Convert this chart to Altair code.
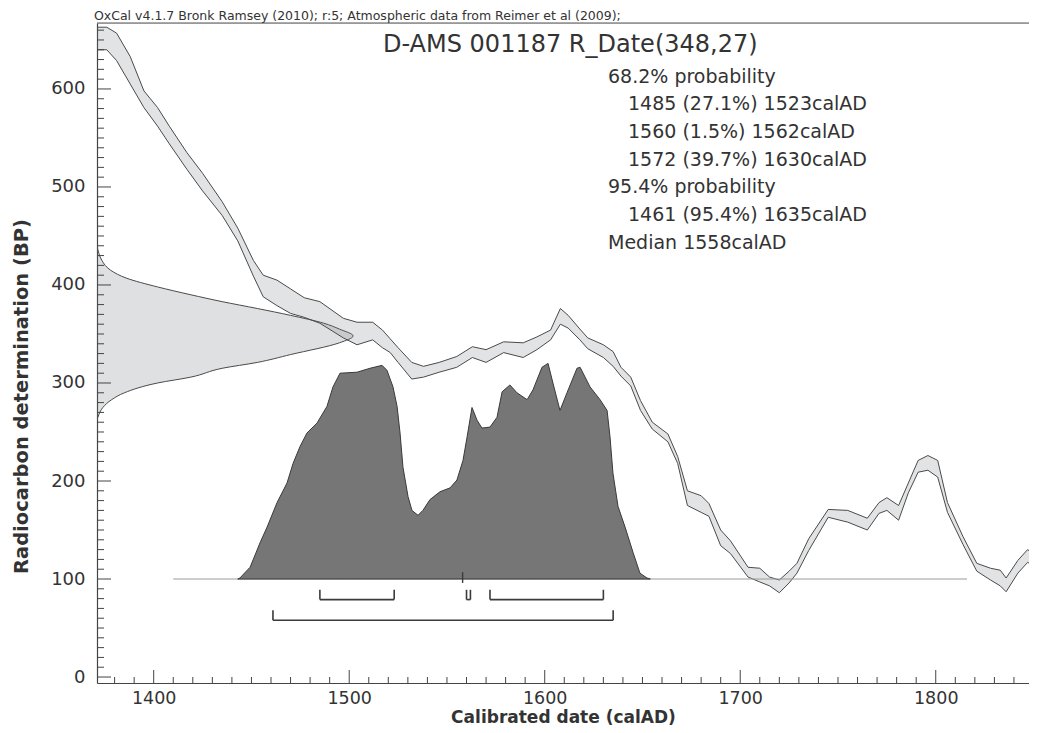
import altair as alt
import pandas as pd

# ---------------- data ----------------
# calibration curve band (upper / lower edge, BP)
curve_years = [1371, 1376, 1381, 1388, 1395, 1402, 1408, 1417, 1425, 1435,
               1443, 1451, 1456, 1463, 1470, 1477, 1485, 1497, 1504, 1512,
               1517, 1521, 1525, 1532, 1538, 1546, 1555, 1563, 1570, 1579,
               1589, 1596, 1603, 1608, 1612, 1618, 1622, 1630, 1635, 1639,
               1644, 1649, 1655, 1663, 1668, 1673, 1680, 1684, 1690, 1695,
               1704, 1710, 1715, 1720, 1725, 1729, 1735, 1745, 1755, 1765,
               1771, 1775, 1781, 1786, 1791, 1796, 1801, 1806, 1814, 1821,
               1828, 1833, 1836, 1842, 1847, 1852]
curve_upper = [663, 663, 657, 633, 598, 581, 562, 535, 514, 485,
               458, 425, 410, 405, 396, 387, 383, 366, 362, 362,
               354, 345, 336, 321, 317, 321, 327, 337, 334, 342,
               341, 347, 354, 376, 369, 355, 346, 339, 332, 316,
               306, 282, 260, 248, 225, 190, 185, 177, 150, 139,
               112, 111, 102, 99, 108, 116, 141, 171, 170, 162,
               178, 183, 175, 198, 221, 226, 221, 178, 143, 116,
               111, 109, 101, 119, 130, 122]
curve_lower = [640, 640, 629, 605, 581, 562, 544, 518, 496, 471,
               445, 409, 388, 379, 371, 367, 361, 346, 339, 344,
               336, 331, 321, 304, 306, 311, 316, 326, 321, 331,
               326, 334, 344, 360, 356, 344, 335, 326, 317, 307,
               297, 272, 253, 240, 218, 175, 168, 164, 134, 126,
               102, 97, 93, 86, 96, 106, 129, 163, 158, 150,
               167, 170, 160, 188, 209, 211, 204, 168, 135, 108,
               99, 93, 87, 106, 117, 112]

# R_Date(348,27) likelihood drawn along the y axis: BP and calendar year it reaches
rdate_bp = [262, 268, 275, 283, 290, 300, 306, 315, 321, 329, 341, 348,
            355, 361, 369, 376, 383, 390, 398, 407, 415, 425, 432, 440]
rdate_reach = [1371.0, 1372.0, 1374.0, 1378.5, 1385, 1402, 1419, 1435, 1453, 1470, 1495, 1502,
               1495, 1487, 1470, 1453, 1435, 1419, 1402, 1386, 1378, 1373.5, 1372.0, 1371.0]

# calibrated distribution (top edge, in BP units above the 100 BP baseline)
post_years = [1443, 1444.1, 1449.3, 1454.4, 1458, 1463.1, 1468.2, 1471.3, 1474.8, 1478.4,
              1483.5, 1488.6, 1491.7, 1495.3, 1504, 1510.6, 1516.8, 1519.3, 1522.4, 1524.5,
              1526, 1527.5, 1530.1, 1532.1, 1535.2, 1537.7, 1541.3, 1546.4, 1551.6, 1555.1,
              1558.2, 1560.3, 1562.8, 1565.4, 1567.9, 1572, 1575.6, 1578.2, 1582.2, 1585.8,
              1591, 1594, 1598.6, 1601.7, 1604.2, 1607.8, 1611.4, 1616.5, 1618.1, 1623.2,
              1628.3, 1631.9, 1633.4, 1634.9, 1637.5, 1641.1, 1645.2, 1648.7, 1652.3, 1654]
post_top = [100, 101, 112, 137, 153, 178, 198, 218, 235, 249,
            259, 276, 296, 310, 311, 315, 318, 313, 296, 276,
            249, 214, 184, 170, 165, 170, 181, 189, 193, 201,
            221, 245, 275, 262, 254, 255, 265, 291, 298, 290,
            283, 293, 316, 320, 300, 272, 290, 315, 316, 296,
            283, 272, 245, 208, 174, 153, 127, 106, 101, 100]
post_base = 100
baseline_span = [1410, 1816]

ranges_68_start = [1485, 1560, 1572]
ranges_68_end = [1523, 1562, 1630]
ranges_95_start = [1461]
ranges_95_end = [1635]
median_year = 1558

x_major = [1400, 1500, 1600, 1700, 1800]
x_minor = [v for v in range(1380, 1850, 10) if v % 100 != 0]
y_major = [0, 100, 200, 300, 400, 500, 600]
y_minor = [v for v in range(10, 670, 10) if v % 100 != 0]

header_text = "OxCal v4.1.7 Bronk Ramsey (2010); r:5; Atmospheric data from Reimer et al (2009);"
title_text = "D-AMS 001187 R_Date(348,27)"
info_lines = ["68.2% probability",
              "1485 (27.1%) 1523calAD",
              "1560 (1.5%) 1562calAD",
              "1572 (39.7%) 1630calAD",
              "95.4% probability",
              "1461 (95.4%) 1635calAD",
              "Median 1558calAD"]
info_indent = [0, 1, 1, 1, 0, 1, 0]

# ---------------- layout / style ----------------
W, H = 932, 660
X_DOM = [1371.0, 1847.7]
Y_DOM = [-6.1, 667.3]
FONT = "DejaVu Sans"
TXT = "#333333"
AX = "#444444"
LEV68, LEV95, BRK = 79, 58, 10  # bracket levels (BP) and end height

xs = alt.Scale(domain=X_DOM, nice=False, zero=False)
ys = alt.Scale(domain=Y_DOM, nice=False, zero=False)

x_axis = alt.Axis(values=x_major, format="d", ticks=False, tickSize=0, grid=False,
                  domainColor=AX, domainWidth=1.2, labelFont=FONT, labelFontSize=17.5,
                  labelColor=TXT, labelPadding=6, labelFlush=False,
                  titleFont=FONT, titleFontSize=17, titleFontWeight="bold",
                  titleColor=TXT, titleY=34, titleBaseline="middle")
y_axis = alt.Axis(values=y_major, ticks=False, tickSize=0, grid=False,
                  domainColor=AX, domainWidth=1.2, labelFont=FONT, labelFontSize=18,
                  labelColor=TXT, labelPadding=12, labelFlush=False,
                  titleFont=FONT, titleFontSize=19.5, titleFontWeight="bold",
                  titleColor=TXT, titleX=-76, titleY=373, titleAngle=270,
                  titleAlign="center", titleBaseline="middle")
XT = "Calibrated date (calAD)"
YT = "Radiocarbon determination (BP)"

curve_df = pd.DataFrame({"year": curve_years, "upper": curve_upper, "lower": curve_lower})
rdate_df = pd.DataFrame({"bp": rdate_bp, "reach": rdate_reach})
post_df = pd.DataFrame({"year": post_years, "top": post_top, "base": [post_base] * len(post_years)})
base_df = pd.DataFrame({"s": [baseline_span[0]], "e": [baseline_span[1]], "lev": [post_base]})

br_rows = []
for s, e in zip(ranges_68_start, ranges_68_end):
    br_rows.append({"s": s, "e": e, "lev": LEV68, "top": LEV68 + BRK})
for s, e in zip(ranges_95_start, ranges_95_end):
    br_rows.append({"s": s, "e": e, "lev": LEV95, "top": LEV95 + BRK})
br_df = pd.DataFrame(br_rows)
med_df = pd.DataFrame({"year": [median_year], "y1": [post_base - 4], "y2": [post_base + 7]})

gauss = alt.Chart(rdate_df).mark_area(
    orient="horizontal", interpolate="monotone", fill="#6f7479", fillOpacity=0.22,
    stroke="#4a4a4a", strokeWidth=1, clip=True
).encode(
    y=alt.Y("bp:Q", scale=ys, axis=y_axis, title=YT),
    x=alt.X("reach:Q", scale=xs, axis=x_axis, title=XT),
    x2=alt.value(0),
)

band = alt.Chart(curve_df).mark_area(
    fill="#6f7479", fillOpacity=0.2, stroke="#4a4a4a", strokeWidth=1, clip=True
).encode(
    x=alt.X("year:Q", scale=xs, axis=x_axis, title=XT),
    y=alt.Y("upper:Q", scale=ys, axis=y_axis, title=YT),
    y2="lower:Q",
)

baseline = alt.Chart(base_df).mark_rule(color="#9a9a9a", strokeWidth=1).encode(
    x=alt.X("s:Q", scale=xs, axis=x_axis, title=XT), x2="e:Q",
    y=alt.Y("lev:Q", scale=ys, axis=y_axis, title=YT),
)

post = alt.Chart(post_df).mark_area(
    fill="#767676", stroke="#3a3a3a", strokeWidth=1, clip=True
).encode(
    x=alt.X("year:Q", scale=xs, axis=x_axis, title=XT),
    y=alt.Y("top:Q", scale=ys, axis=y_axis, title=YT),
    y2="base:Q",
)

br_h = alt.Chart(br_df).mark_rule(color="#3a3a3a", strokeWidth=1.6).encode(
    x=alt.X("s:Q", scale=xs, axis=x_axis, title=XT), x2="e:Q",
    y=alt.Y("lev:Q", scale=ys, axis=y_axis, title=YT),
)
br_l = alt.Chart(br_df).mark_rule(color="#3a3a3a", strokeWidth=1.6).encode(
    x=alt.X("s:Q", scale=xs, axis=x_axis, title=XT),
    y=alt.Y("lev:Q", scale=ys, axis=y_axis, title=YT), y2="top:Q",
)
br_r = alt.Chart(br_df).mark_rule(color="#3a3a3a", strokeWidth=1.6).encode(
    x=alt.X("e:Q", scale=xs, axis=x_axis, title=XT),
    y=alt.Y("lev:Q", scale=ys, axis=y_axis, title=YT), y2="top:Q",
)
med = alt.Chart(med_df).mark_rule(color="#3a3a3a", strokeWidth=1.4).encode(
    x=alt.X("year:Q", scale=xs, axis=x_axis, title=XT),
    y=alt.Y("y1:Q", scale=ys, axis=y_axis, title=YT), y2="y2:Q",
)

def xticks(vals, length):
    return alt.Chart(pd.DataFrame({"v": vals})).mark_rule(color=AX, strokeWidth=1).encode(
        x=alt.X("v:Q", scale=xs, axis=x_axis, title=XT),
        y=alt.value(H), y2=alt.value(H - length),
    )

def yticks(vals, length):
    return alt.Chart(pd.DataFrame({"v": vals})).mark_rule(color=AX, strokeWidth=1).encode(
        y=alt.Y("v:Q", scale=ys, axis=y_axis, title=YT),
        x=alt.value(0), x2=alt.value(length),
    )

dummy = pd.DataFrame({"d": [0]})
top_line = alt.Chart(dummy).mark_rule(color="#555555", strokeWidth=1).encode(
    x=alt.value(0), x2=alt.value(W), y=alt.value(0)
)

def label(txt, px, py, size, weight="normal"):
    return alt.Chart(dummy).mark_text(
        align="left", baseline="alphabetic", font=FONT, fontSize=size,
        fontWeight=weight, color=TXT
    ).encode(x=alt.value(px), y=alt.value(py), text=alt.value(txt))

texts = [label(header_text, -3, -3, 12.5), label(title_text, 286, 29, 24)]
for i, (line, ind) in enumerate(zip(info_lines, info_indent)):
    texts.append(label(line, 511 + 20 * ind, 59.5 + 27.7 * i, 19))

chart = alt.layer(
    gauss, band, baseline, post, br_h, br_l, br_r, med,
    xticks(x_minor, 6), xticks(x_major, 13), yticks(y_minor, 7), yticks(y_major, 14),
    top_line, *texts
).properties(
    width=W, height=H,
    autosize=alt.AutoSizeParams(type="none"),
    padding={"left": 89, "top": 15, "right": 0, "bottom": 42},
).configure_view(stroke=None).configure(background="white")

chart.save("out.html", embed_options={"renderer": "svg", "actions": False})
